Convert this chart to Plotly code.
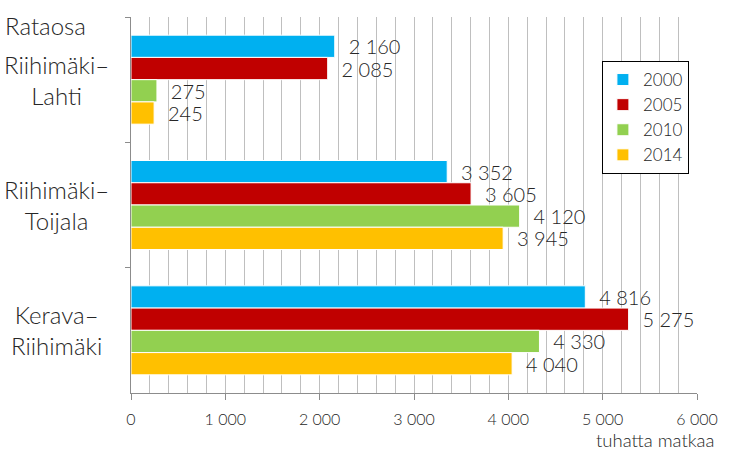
import plotly.graph_objects as go

categories = ["Riihimäki–Lahti", "Riihimäki–Toijala", "Kerava–Riihimäki"]
cat_labels = ["Riihimäki–<br>Lahti", "Riihimäki–<br>Toijala", "Kerava–<br>Riihimäki"]
years = ["2000", "2005", "2010", "2014"]
v2000 = [2160, 3352, 4816]
v2005 = [2085, 3605, 5275]
v2010 = [275, 4120, 4330]
v2014 = [245, 3945, 4040]
series = [v2000, v2005, v2010, v2014]
colors = ["#00B0F0", "#C00000", "#92D050", "#FFC000"]
tick_vals = [0, 1000, 2000, 3000, 4000, 5000, 6000]
tick_text = ["0", "1 000", "2 000", "3 000", "4 000", "5 000", "6 000"]

FONT = "Lato, 'Open Sans', sans-serif"
TXT = "#262626"
W = 300

def fmt(v):
    return "\u00a0\u00a0" + f"{v:,}".replace(",", " ")

fig = go.Figure()
for name, vals, col in zip(years, series, colors):
    fig.add_trace(go.Bar(
        y=categories, x=vals, name=name, orientation="h",
        marker=dict(color=col, line=dict(color="white", width=1)),
        text=[fmt(v) for v in vals], textposition="outside",
        textfont=dict(size=20, color=TXT, family=FONT, weight=W),
        constraintext="none", cliponaxis=False,
    ))

fig.update_layout(
    width=752, height=452,
    margin=dict(l=131, r=55, t=17, b=59),
    paper_bgcolor="white", plot_bgcolor="white",
    barmode="group", bargap=0.29, bargroupgap=0,
    font=dict(family=FONT, color=TXT, weight=W),
    showlegend=True,
    legend=dict(x=0.832, y=0.883, xanchor="left", yanchor="top",
                bordercolor="black", borderwidth=1, bgcolor="white",
                font=dict(size=17, color=TXT, weight=W),
                itemwidth=30, tracegroupgap=5),
    xaxis=dict(range=[0, 6000], tickvals=tick_vals, ticktext=tick_text,
               showgrid=True, gridcolor="#bfbfbf", gridwidth=1,
               ticks="outside", ticklen=6, tickcolor="#8c8c8c",
               showline=True, linecolor="#8c8c8c", linewidth=1,
               tickfont=dict(size=16, color=TXT, weight=W), ticklabelstandoff=6,
               minor=dict(dtick=200, showgrid=True, gridcolor="#bfbfbf", gridwidth=1),
               zeroline=False),
    yaxis=dict(autorange="reversed", tickson="boundaries", ticks="outside",
               ticklen=5, tickcolor="#8c8c8c", showline=True, linecolor="#8c8c8c",
               linewidth=1, showticklabels=False, showgrid=False),
)

for cat, lab in zip(categories, cat_labels):
    fig.add_annotation(text=lab, xref="paper", yref="y", x=-0.131, y=cat,
                       xanchor="center", yanchor="middle", align="center",
                       showarrow=False, font=dict(size=24, color=TXT, weight=W))

fig.add_annotation(text="Rataosa", xref="paper", yref="paper", x=-0.226, y=(393 - 25) / 376,
                   xanchor="left", yanchor="middle", showarrow=False,
                   font=dict(size=24, color=TXT, weight=W))
fig.add_annotation(text="tuhatta matkaa", xref="paper", yref="paper", x=1.035, y=(393 - 440) / 376,
                   xanchor="right", yanchor="middle", showarrow=False,
                   font=dict(size=18.5, color=TXT, weight=W))

fig.write_html("out.html")
